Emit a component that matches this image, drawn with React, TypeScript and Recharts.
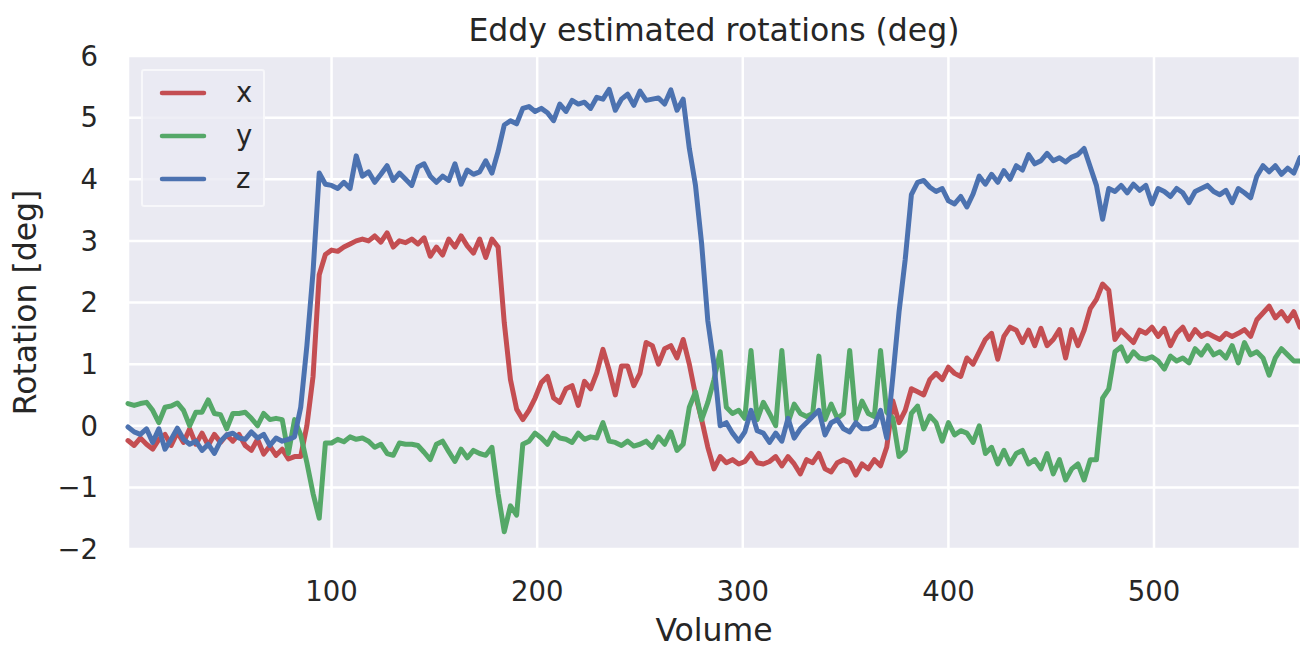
import { LineChart, Line, XAxis, YAxis, CartesianGrid, Legend } from 'recharts'

// one sample every 3 volumes, starting at volume 1
const xRot = [
  -0.24, -0.32, -0.2, -0.3, -0.38, -0.22, -0.14, -0.32, -0.11, -0.27,
  -0.05, -0.3, -0.12, -0.32, -0.14, -0.27, -0.15, -0.25, -0.14, -0.32,
  -0.4, -0.22, -0.46, -0.33, -0.48, -0.38, -0.54, -0.5, -0.5, 0.0,
  0.8, 2.45, 2.78, 2.85, 2.83, 2.9, 2.95, 3.0, 3.03, 3.0,
  3.08, 2.98, 3.13, 2.9, 3.0, 2.97, 3.03, 2.95, 3.05, 2.75,
  2.9, 2.77, 3.03, 2.9, 3.08, 2.92, 2.8, 3.03, 2.73, 3.03,
  2.9, 1.67, 0.75, 0.27, 0.1, 0.25, 0.45, 0.7, 0.8, 0.45,
  0.38, 0.6, 0.65, 0.33, 0.72, 0.6, 0.86, 1.24, 0.9, 0.5,
  0.97, 0.97, 0.65, 0.85, 1.35, 1.3, 1.0, 1.25, 1.3, 1.1,
  1.4, 1.0, 0.5, 0.1, -0.35, -0.7, -0.5, -0.6, -0.55, -0.62,
  -0.58, -0.45, -0.6, -0.62, -0.58, -0.5, -0.65, -0.5, -0.62, -0.78,
  -0.55, -0.6, -0.45, -0.7, -0.75, -0.6, -0.55, -0.6, -0.8, -0.62,
  -0.7, -0.55, -0.65, -0.35, 0.4, 0.05, 0.25, 0.6, 0.55, 0.5,
  0.75, 0.85, 0.75, 0.95, 0.85, 0.8, 1.1, 1.0, 1.2, 1.4,
  1.5, 1.08, 1.45, 1.6, 1.55, 1.35, 1.55, 1.3, 1.58, 1.3,
  1.4, 1.56, 1.1, 1.56, 1.3, 1.55, 1.9, 2.05, 2.3, 2.2,
  1.4, 1.55, 1.45, 1.35, 1.55, 1.5, 1.6, 1.45, 1.58, 1.3,
  1.5, 1.6, 1.4, 1.56, 1.45, 1.5, 1.45, 1.4, 1.5, 1.45,
  1.5, 1.56, 1.45, 1.72, 1.83, 1.94, 1.75, 1.85, 1.7, 1.85,
  1.6,
]

const yRot = [
  0.36, 0.33, 0.36, 0.38, 0.25, 0.05, 0.3, 0.32, 0.37, 0.25,
  0.0, 0.22, 0.22, 0.42, 0.2, 0.18, -0.05, 0.2, 0.2, 0.22,
  0.12, 0.0, 0.2, 0.1, 0.12, 0.1, -0.45, 0.1, -0.15, -0.6,
  -1.1, -1.5, -0.28, -0.28, -0.22, -0.26, -0.18, -0.22, -0.2, -0.25,
  -0.35, -0.3, -0.45, -0.48, -0.28, -0.3, -0.3, -0.32, -0.43, -0.55,
  -0.3, -0.25, -0.42, -0.58, -0.38, -0.52, -0.4, -0.45, -0.48, -0.35,
  -1.1, -1.72, -1.3, -1.45, -0.3, -0.25, -0.12, -0.2, -0.3, -0.12,
  -0.2, -0.22, -0.27, -0.12, -0.22, -0.18, -0.2, 0.05, -0.25, -0.27,
  -0.32, -0.25, -0.33, -0.3, -0.25, -0.35, -0.18, -0.3, -0.1, -0.4,
  -0.3, 0.3, 0.55, 0.1, 0.38, 0.75, 1.2, 0.3, 0.2, 0.25,
  0.12, 1.22, 0.1, 0.38, 0.2, 0.0, 1.22, 0.05, 0.35, 0.2,
  0.15, 0.2, 1.13, 0.1, 0.35, 0.12, 0.2, 1.22, 0.1, 0.4,
  0.2, 0.15, 1.22, 0.22, 0.12, -0.5, -0.4, 0.2, 0.32, -0.05,
  0.16, 0.05, -0.25, 0.05, -0.15, -0.08, -0.12, -0.27, 0.0, -0.45,
  -0.35, -0.62, -0.4, -0.62, -0.45, -0.4, -0.62, -0.55, -0.7, -0.45,
  -0.78, -0.55, -0.88, -0.7, -0.62, -0.88, -0.55, -0.55, 0.45, 0.6,
  1.2, 1.28, 1.05, 1.2, 1.1, 1.08, 1.12, 1.05, 0.92, 1.13,
  1.05, 1.1, 1.02, 1.25, 1.15, 1.3, 1.15, 1.2, 1.1, 1.3,
  1.02, 1.35, 1.15, 1.2, 1.1, 0.82, 1.1, 1.25, 1.15, 1.05,
  1.05,
]

const zRot = [
  -0.02, -0.1, -0.14, -0.05, -0.27, -0.05, -0.38, -0.22, -0.04, -0.22,
  -0.3, -0.25, -0.4, -0.3, -0.45, -0.25, -0.15, -0.12, -0.2, -0.22,
  -0.1, -0.2, -0.14, -0.32, -0.2, -0.25, -0.22, -0.18, 0.3, 1.3,
  2.5, 4.1, 3.92, 3.9, 3.85, 3.95, 3.85, 4.38, 4.05, 4.12,
  3.95, 4.08, 4.22, 3.98, 4.1, 4.0, 3.9, 4.2, 4.25, 4.05,
  3.95, 4.05, 3.98, 4.25, 3.92, 4.15, 4.08, 4.12, 4.3, 4.1,
  4.45, 4.88, 4.95, 4.9, 5.15, 5.18, 5.1, 5.15, 5.08, 4.95,
  5.22, 5.1, 5.28, 5.22, 5.25, 5.15, 5.33, 5.3, 5.46, 5.12,
  5.3, 5.38, 5.2, 5.43, 5.28, 5.3, 5.32, 5.22, 5.45, 5.12,
  5.3, 4.5, 3.9, 2.95, 1.7, 1.0, 0.0, 0.05, -0.12, -0.25,
  -0.1, 0.25, -0.08, -0.12, -0.27, -0.12, -0.25, 0.12, -0.2, -0.05,
  0.05, 0.15, 0.25, -0.15, 0.05, 0.1, -0.05, -0.1, 0.05, -0.05,
  -0.05, 0.0, 0.25, -0.2, 0.8, 1.85, 2.7, 3.75, 3.95, 3.98,
  3.87, 3.8, 3.85, 3.65, 3.6, 3.72, 3.55, 3.76, 4.05, 3.92,
  4.08, 3.95, 4.14, 4.0, 4.22, 4.15, 4.4, 4.25, 4.3, 4.42,
  4.3, 4.35, 4.28, 4.36, 4.4, 4.5, 4.2, 3.9, 3.35, 3.85,
  3.8, 3.9, 3.78, 3.92, 3.82, 3.9, 3.6, 3.85, 3.8, 3.72,
  3.85, 3.78, 3.62, 3.8, 3.85, 3.9, 3.8, 3.75, 3.82, 3.62,
  3.85, 3.78, 3.7, 4.05, 4.22, 4.12, 4.22, 4.08, 4.18, 4.1,
  4.35,
]

const volumes = xRot.map((_, i) => 1 + 3 * i)
const xTicks = [100, 200, 300, 400, 500]
const yTicks = [-2, -1, 0, 1, 2, 3, 4, 5, 6]

const SERIES = [
  { key: 'x', color: '#C44E52' },
  { key: 'y', color: '#55A868' },
  { key: 'z', color: '#4C72B0' },
]

const data = volumes.map((vol, i) => ({ vol, x: xRot[i], y: yRot[i], z: zRot[i] }))

const FONT = '"DejaVu Sans", sans-serif'
const TEXT = '#262626'

const fmtY = (v: number) => (v < 0 ? `\u2212${Math.abs(v)}` : `${v}`)

function LegendBox() {
  return (
    <div
      style={{
        width: 124,
        height: 138,
        boxSizing: 'border-box',
        background: 'rgba(234,234,242,0.8)',
        border: '2px solid rgba(255,255,255,0.6)',
        borderRadius: 3,
        position: 'relative',
      }}
    >
      <svg width={124} height={138} style={{ position: 'absolute', left: -2, top: -2 }}>
        {SERIES.map((s, i) => (
          <g key={s.key}>
            <line x1={21} x2={63} y1={24 + i * 43} y2={24 + i * 43} stroke={s.color} strokeWidth={4.5} strokeLinecap="round" />
            <text x={95} y={32.5 + i * 43} fontSize={27.5} fontFamily={FONT} fill={TEXT}>
              {s.key}
            </text>
          </g>
        ))}
      </svg>
    </div>
  )
}

export default function App() {
  return (
    <div style={{ position: 'absolute', left: 0, top: 0, width: 1300, height: 648, background: '#fff' }}>
      <div
        style={{
          position: 'absolute',
          left: 128,
          width: 1172,
          top: 15,
          textAlign: 'center',
          fontFamily: FONT,
          fontSize: 31.5,
          lineHeight: '31.5px',
          color: TEXT,
        }}
      >
        Eddy estimated rotations (deg)
      </div>
      <LineChart width={1300} height={648} data={data} margin={{ top: 56, right: 0, bottom: 0, left: 0 }}>
        <CartesianGrid fill="#EAEAF2" fillOpacity={1} stroke="#ffffff" strokeWidth={2.5} />
        <XAxis
          dataKey="vol"
          type="number"
          domain={[1, 571]}
          ticks={xTicks}
          height={99}
          axisLine={false}
          tickLine={false}
          tickSize={0}
          tickMargin={32}
          tick={{ fontSize: 27.5, fill: TEXT, fontFamily: FONT }}
          label={{ value: 'Volume', position: 'insideBottom', offset: 7, fontSize: 31.5, fill: TEXT, fontFamily: FONT }}
        />
        <YAxis
          type="number"
          domain={[-2, 6]}
          ticks={yTicks}
          width={128}
          axisLine={false}
          tickLine={false}
          tickSize={0}
          tickMargin={30}
          tickFormatter={fmtY}
          tick={{ fontSize: 27.5, fill: TEXT, fontFamily: FONT }}
          label={{
            value: 'Rotation [deg]',
            angle: -90,
            position: 'insideLeft',
            offset: 25,
            fontSize: 31.5,
            fill: TEXT,
            fontFamily: FONT,
            style: { textAnchor: 'middle' },
          }}
        />
        <Legend
          layout="vertical"
          align="center"
          verticalAlign="middle"
          content={() => <LegendBox />}
          wrapperStyle={{ left: 141, top: 69, width: 124, height: 138 }}
        />
        {SERIES.map((s) => (
          <Line
            key={s.key}
            type="linear"
            dataKey={s.key}
            name={s.key}
            stroke={s.color}
            strokeWidth={5}
            strokeLinejoin="round"
            strokeLinecap="round"
            dot={false}
            activeDot={false}
            isAnimationActive={false}
          />
        ))}
      </LineChart>
    </div>
  )
}
